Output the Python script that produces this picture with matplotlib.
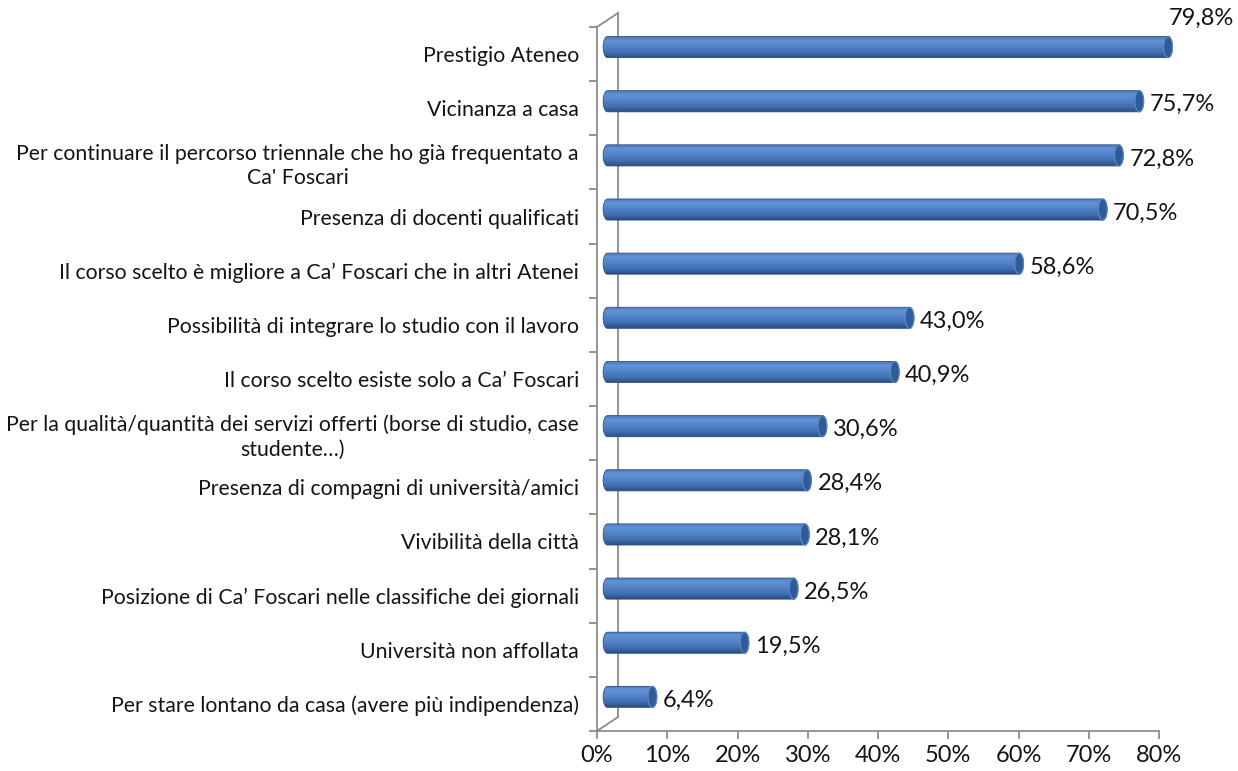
import numpy as np
import matplotlib
matplotlib.use("Agg")
import matplotlib.pyplot as plt
from matplotlib.path import Path
from matplotlib.patches import PathPatch, Ellipse
from matplotlib.transforms import ScaledTranslation
from matplotlib.colors import LinearSegmentedColormap
from matplotlib.ticker import FixedLocator, FuncFormatter

categories = [
    "Prestigio Ateneo",
    "Vicinanza a casa",
    "Per continuare il percorso triennale che ho già frequentato a\nCa' Foscari",
    "Presenza di docenti qualificati",
    "Il corso scelto è migliore a Ca’ Foscari che in altri Atenei",
    "Possibilità di integrare lo studio con il lavoro",
    "Il corso scelto esiste solo a Ca’ Foscari",
    "Per la qualità/quantità dei servizi offerti (borse di studio, case\nstudente…)",
    "Presenza di compagni di università/amici",
    "Vivibilità della città",
    "Posizione di Ca’ Foscari nelle classifiche dei giornali",
    "Università non affollata",
    "Per stare lontano da casa (avere più indipendenza)",
]
values = [79.8, 75.7, 72.8, 70.5, 58.6, 43.0, 40.9, 30.6, 28.4, 28.1, 26.5, 19.5, 6.4]
xticks = [0, 10, 20, 30, 40, 50, 60, 70, 80]

plt.rcParams['font.family'] = ['Lato', 'DejaVu Sans']

W, H = 1238, 771
fig = plt.figure(figsize=(W / 100, H / 100), dpi=100)
ax = fig.add_axes([597 / W, 40 / H, 562 / W, 704 / H])
n = len(categories)
ax.set_xlim(0, 80)
ax.set_ylim(n - 0.5, -0.5)

gray = '#8c8c8c'
txt = '#141414'
for s in ['top', 'right']:
    ax.spines[s].set_visible(False)
for s in ['left', 'bottom']:
    ax.spines[s].set_color(gray)
    ax.spines[s].set_linewidth(1.3)

# 3D back wall / floor edges
dpi = fig.dpi
depth = ScaledTranslation(21 / dpi, 14 / dpi, fig.dpi_scale_trans)
half = ScaledTranslation(10.5 / dpi, 7 / dpi, fig.dpi_scale_trans)
tback = ax.transData + depth
tbar = ax.transData + half
ax.plot([0, 0], [-0.5, n - 0.5], color=gray, lw=1.3, transform=tback, clip_on=False)
for yb in (-0.5, n - 0.5):
    p0 = ax.transData.transform((0, yb))
    p1 = tback.transform((0, yb))
    fig.add_artist(plt.Line2D([p0[0] / W, p1[0] / W], [p0[1] / H, p1[1] / H],
                              color=gray, lw=1.3, transform=fig.transFigure))

# ticks
ax.yaxis.set_major_locator(FixedLocator(np.arange(-0.5, n, 1)))
ax.yaxis.set_major_formatter(FuncFormatter(lambda v, p: ""))
ax.yaxis.set_minor_locator(FixedLocator(np.arange(n)))
ax.set_yticklabels(categories, minor=True)
ax.tick_params(axis='y', which='major', length=6, width=1.3, color=gray, direction='out')
ax.tick_params(axis='y', which='minor', length=0, pad=13, labelsize=15.3, labelcolor=txt)
for t in ax.get_yticklabels(minor=True):
    t.set_multialignment('center')
    t.set_linespacing(1.25)
ax.set_xticks(xticks)
ax.set_xticklabels([f"{v}%" for v in xticks])
ax.tick_params(axis='x', length=6, width=1.3, color=gray, pad=4, labelsize=17, labelcolor=txt)

# cylinders
body_cmap = LinearSegmentedColormap.from_list(
    'cyl', [(0.0, '#4774b3'), (0.2, '#6393d6'), (0.45, '#5285ca'),
            (0.75, '#4271b2'), (1.0, '#2a4d80')])
grad = np.linspace(0, 1, 64).reshape(-1, 1)
h = 0.39
rx = 0.62
for i, v in enumerate(values):
    top, bot = i - h / 2, i + h / 2
    th = np.linspace(np.pi / 2, 3 * np.pi / 2, 30)
    left = np.column_stack([rx * np.cos(th), i - (h / 2) * np.sin(th)])
    th2 = np.linspace(-np.pi / 2, np.pi / 2, 30)
    right = np.column_stack([v + rx * np.cos(th2), i - (h / 2) * np.sin(th2)])
    verts = np.vstack([[[v, top]], left, right, [[v, top]]])
    codes = [Path.MOVETO] + [Path.LINETO] * (len(verts) - 2) + [Path.CLOSEPOLY]
    path = Path(verts, codes)
    patch = PathPatch(path, facecolor='none', edgecolor='#2d5288', lw=0.6,
                      transform=tbar, zorder=3, clip_on=False)
    ax.add_patch(patch)
    im = ax.imshow(grad, cmap=body_cmap, aspect='auto', extent=(-rx, v + rx, bot, top),
                   origin='upper', transform=tbar, zorder=2, interpolation='bilinear')
    im.set_clip_path(patch)
    im.set_clip_box(fig.bbox)
    cap = Ellipse((v, i), width=2 * rx, height=h, facecolor='#2f5c98',
                  edgecolor='#5a86c4', lw=0.9, transform=tbar, zorder=4, clip_on=False)
    ax.add_patch(cap)
    lbl = f"{v:.1f}%".replace('.', ',')
    if v > 78:
        ax.annotate(lbl, (v, i), xycoords=tbar, xytext=(0.5, 21),
                    textcoords='offset points', ha='left', va='center', fontsize=17,
                    color=txt, annotation_clip=False)
    else:
        ax.annotate(lbl, (v, i), xycoords=tbar, xytext=(7.5, -2.5),
                    textcoords='offset points', ha='left', va='center', fontsize=17,
                    color=txt, annotation_clip=False)

ax.set_xlim(0, 80)
ax.set_ylim(n - 0.5, -0.5)
fig.savefig('out.png', dpi=100, facecolor='white')
